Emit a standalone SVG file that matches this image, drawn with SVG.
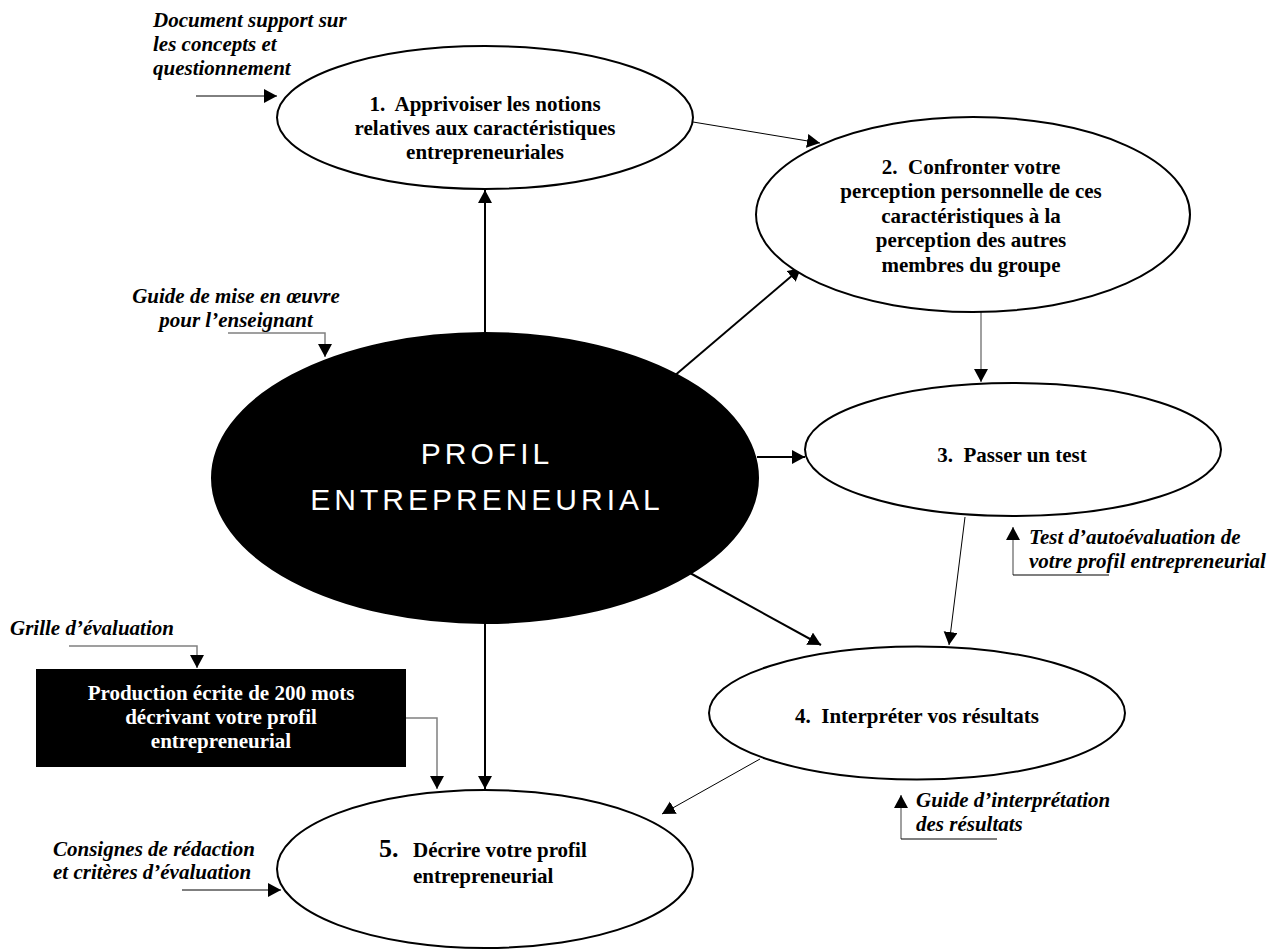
<svg xmlns="http://www.w3.org/2000/svg" width="1287" height="949" viewBox="0 0 1287 949">
<style>
.bg{fill:#fff}
.node{fill:#fff;stroke:#000;stroke-width:2}
.dark{fill:#000;stroke:#000;stroke-width:2}
.t{font-family:"Liberation Serif","Times New Roman",serif;font-weight:bold;font-size:21px;fill:#000}
.tw{font-family:"Liberation Serif","Times New Roman",serif;font-weight:bold;font-size:21px;fill:#fff}
.lab{font-family:"Liberation Serif","Times New Roman",serif;font-weight:bold;font-style:italic;font-size:21px;fill:#000}
.big{font-family:"Liberation Sans",Arial,sans-serif;font-size:30px;letter-spacing:4px;fill:#fff}
.c{text-anchor:middle}
.thick{fill:none;stroke:#000;stroke-width:2}
.thin{fill:none;stroke:#000;stroke-width:1}
.grey{fill:none;stroke:#808080;stroke-width:1.5}
.ul{fill:none;stroke:#000;stroke-width:1.2}
</style>
<defs>
<marker id="ah" markerUnits="userSpaceOnUse" markerWidth="14" markerHeight="15" refX="13" refY="7" orient="auto">
<path d="M0,0 L13,7 L0,14 z" fill="#000"/>
</marker>
</defs>
<rect class="bg" x="0" y="0" width="1287" height="949"/>

<g id="connectors">
<line class="thin" x1="196" y1="96" x2="277" y2="96" marker-end="url(#ah)"/>
<line class="thick" x1="485" y1="333" x2="485" y2="190" marker-end="url(#ah)"/>
<line class="thin" x1="693" y1="122" x2="820" y2="143" marker-end="url(#ah)"/>
<line class="thick" x1="673" y1="377" x2="801" y2="268" marker-end="url(#ah)"/>
<line class="grey" x1="981" y1="312" x2="981" y2="382" marker-end="url(#ah)"/>
<polyline class="grey" points="228,333 325,333 325,357" marker-end="url(#ah)"/>
<line class="thick" x1="757" y1="457" x2="805" y2="457" marker-end="url(#ah)"/>
<line class="thick" x1="690" y1="573" x2="821" y2="645" marker-end="url(#ah)"/>
<line class="thin" x1="965" y1="517" x2="949" y2="645" marker-end="url(#ah)"/>
<line class="grey" x1="1013" y1="575" x2="1013" y2="527" marker-end="url(#ah)"/>
<line class="ul" x1="1013" y1="575" x2="1109" y2="575"/>
<line class="grey" x1="901" y1="839" x2="901" y2="795" marker-end="url(#ah)"/>
<line class="ul" x1="901" y1="839" x2="997" y2="839"/>
<line class="thin" x1="760" y1="759" x2="662" y2="814" marker-end="url(#ah)"/>
<polyline class="grey" points="69,646 197,646 197,668" marker-end="url(#ah)"/>
<polyline class="grey" points="406,718 437,718 437,789" marker-end="url(#ah)"/>
<line class="thick" x1="485" y1="623" x2="485" y2="789" marker-end="url(#ah)"/>
<line class="thin" x1="182" y1="890" x2="281" y2="890" marker-end="url(#ah)"/>
</g>

<g id="label-document">
<text class="lab" x="153" y="27">Document support sur</text>
<text class="lab" x="153" y="51">les concepts et</text>
<text class="lab" x="153" y="75">questionnement</text>
</g>

<g id="node-1">
<ellipse class="node" cx="485" cy="117.5" rx="208" ry="71.5"/>
<text class="t c" x="485" y="111">1.&#160; Apprivoiser les notions</text>
<text class="t c" x="485" y="135">relatives aux caractéristiques</text>
<text class="t c" x="485" y="159">entrepreneuriales</text>
</g>

<g id="node-2">
<ellipse class="node" cx="973" cy="214.5" rx="217" ry="97.5"/>
<text class="t c" x="971" y="174">2.&#160; Confronter votre</text>
<text class="t c" x="971" y="198">perception personnelle de ces</text>
<text class="t c" x="971" y="223">caractéristiques à la</text>
<text class="t c" x="971" y="247">perception des autres</text>
<text class="t c" x="971" y="272">membres du groupe</text>
</g>

<g id="label-guide">
<text class="lab c" x="236" y="303">Guide de mise en œuvre</text>
<text class="lab c" x="236" y="327">pour l’enseignant</text>
</g>

<g id="node-profil">
<ellipse class="dark" cx="485" cy="478" rx="273" ry="145"/>
<text class="big c" x="487" y="464">PROFIL</text>
<text class="big c" x="487" y="510">ENTREPRENEURIAL</text>
</g>

<g id="node-3">
<ellipse class="node" cx="1013" cy="449.5" rx="208" ry="66.5"/>
<text class="t c" x="1012" y="462">3.&#160; Passer un test</text>
</g>

<g id="label-test">
<text class="lab" x="1029" y="544">Test d’autoévaluation de</text>
<text class="lab" x="1029" y="568">votre profil entrepreneurial</text>
</g>

<g id="node-4">
<ellipse class="node" cx="917" cy="713" rx="208" ry="66.5"/>
<text class="t c" x="917" y="723">4.&#160; Interpréter vos résultats</text>
</g>

<g id="label-interpretation">
<text class="lab" x="916" y="807">Guide d’interprétation</text>
<text class="lab" x="916" y="831">des résultats</text>
</g>

<g id="label-grille">
<text class="lab" x="10" y="635">Grille d’évaluation</text>
</g>

<g id="node-production">
<rect x="36" y="669" width="370" height="98" fill="#000"/>
<text class="tw c" x="221" y="700">Production écrite de 200 mots</text>
<text class="tw c" x="221" y="724">décrivant votre profil</text>
<text class="tw c" x="221" y="748">entrepreneurial</text>
</g>

<g id="node-5">
<ellipse class="node" cx="485" cy="869" rx="208" ry="79"/>
<text class="t" x="379" y="857" style="font-size:26px">5.</text>
<text class="t" x="413" y="857">Décrire votre profil</text>
<text class="t" x="413" y="883">entrepreneurial</text>
</g>

<g id="label-consignes">
<text class="lab" x="53" y="856">Consignes de rédaction</text>
<text class="lab" x="53" y="879">et critères d’évaluation</text>
</g>
</svg>
